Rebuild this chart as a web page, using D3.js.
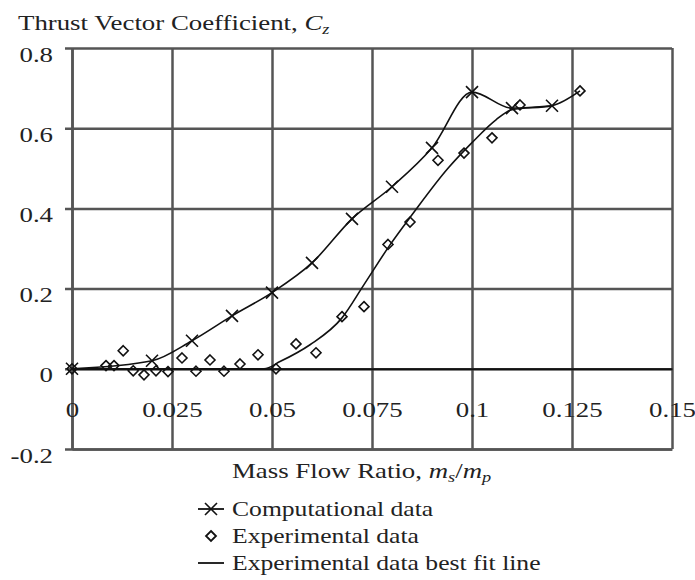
<!DOCTYPE html>
<html><head><meta charset="utf-8">
<script src="https://cdn.jsdelivr.net/npm/d3@7"></script>
<style>body{margin:0;background:#fff} svg{display:block}</style>
</head><body><svg id="c" width="695" height="580"></svg>
<script>
const compX = [0, 0.02, 0.03, 0.04, 0.05, 0.06, 0.07, 0.08, 0.09, 0.10, 0.11, 0.12];
const compY = [0, 0.02, 0.07, 0.132, 0.19, 0.264, 0.374, 0.454, 0.551, 0.69, 0.65, 0.656];

const expX = [0, 0.0085, 0.0105, 0.0128, 0.0153, 0.018, 0.021, 0.024, 0.0275, 0.031, 0.0345, 0.038, 0.042, 0.0465, 0.051, 0.056, 0.061, 0.0675, 0.073, 0.079, 0.0845, 0.0915, 0.098, 0.105, 0.112, 0.127];
const expY = [0, 0.008, 0.008, 0.045, -0.005, -0.015, -0.005, -0.007, 0.027, -0.006, 0.022, -0.006, 0.012, 0.035, 0.0, 0.062, 0.04, 0.13, 0.155, 0.31, 0.366, 0.52, 0.538, 0.576, 0.658, 0.693];

const fitX = [0, 0.025, 0.048, 0.052, 0.0595, 0.0675, 0.073, 0.0795, 0.085, 0.094, 0.100, 0.106, 0.110, 0.120, 0.127];
const fitY = [0, 0, 0, 0.018, 0.06, 0.127, 0.21, 0.309, 0.384, 0.50, 0.564, 0.621, 0.646, 0.656, 0.693];

const xTicks = [0, 0.025, 0.05, 0.075, 0.1, 0.125, 0.15];
const xTickLabels = ["0", "0.025", "0.05", "0.075", "0.1", "0.125", "0.15"];
const yTicks = [-0.2, 0, 0.2, 0.4, 0.6, 0.8];
const yTickLabels = ["-0.2", "0", "0.2", "0.4", "0.6", "0.8"];
const legendLabels = ["Computational data", "Experimental data", "Experimental data best fit line"];

const FONT = "'Liberation Serif','Times New Roman',serif";
const SX = 1.22;          // horizontal stretch of the reference's lettering
const INK = "#222";
const svg = d3.select("#c");
const x = d3.scaleLinear().domain([0, 0.15]).range([72, 672]);
const y = d3.scaleLinear().domain([-0.2, 0.8]).range([449, 48]);

// horizontal gridlines + y axis
const gy = svg.append("g").attr("transform", "translate(72,0)")
  .call(d3.axisLeft(y).tickValues(yTicks).tickSize(-600).tickSizeOuter(0)
    .tickFormat((d, i) => yTickLabels[i]));
gy.select(".domain").attr("stroke", "#555").attr("stroke-width", 2.5);
gy.selectAll(".tick line").attr("x1", -7).attr("stroke", "#555").attr("stroke-width", 2.5);
gy.selectAll(".tick text").attr("x", -19 / SX).attr("dy", 13).attr("transform", `scale(${SX},1)`)
  .attr("font-family", FONT).attr("font-size", 22).attr("fill", INK);

// vertical gridlines
const gx = svg.append("g").attr("transform", "translate(0,449)")
  .call(d3.axisBottom(x).tickValues(xTicks).tickSize(-401).tickSizeOuter(0).tickFormat(""));
gx.select(".domain").attr("stroke", "#555").attr("stroke-width", 2.5);
gx.selectAll(".tick line").attr("stroke", "#555").attr("stroke-width", 2.5);

// zero axis line with labels below
const g0 = svg.append("g").attr("transform", `translate(0,${y(0)})`)
  .call(d3.axisBottom(x).tickValues(xTicks).tickSize(0).tickSizeOuter(0)
    .tickFormat((d, i) => xTickLabels[i]));
g0.select(".domain").attr("stroke", "#111").attr("stroke-width", 2);
g0.selectAll(".tick text").attr("y", 48).attr("dy", 0).attr("transform", `scale(${SX},1)`)
  .attr("font-family", FONT).attr("font-size", 22).attr("fill", INK);

// lines
const comp = compX.map((d, i) => [d, compY[i]]);
const exp = expX.map((d, i) => [d, expY[i]]);
const fit = fitX.map((d, i) => [d, fitY[i]]);
const line = d3.line().x(d => x(d[0])).y(d => y(d[1])).curve(d3.curveMonotoneX);

svg.append("path").datum(fit).attr("d", line)
  .attr("fill", "none").attr("stroke", "#111").attr("stroke-width", 1.6);
svg.append("path").datum(comp).attr("d", line)
  .attr("fill", "none").attr("stroke", "#111").attr("stroke-width", 1.6);

// cross markers
const crossPath = "M-6,-6L6,6M-6,6L6,-6";
svg.append("g").selectAll("path").data(comp).join("path")
  .attr("transform", d => `translate(${x(d[0])},${y(d[1])})`)
  .attr("d", crossPath).attr("stroke", "#111").attr("stroke-width", 1.6).attr("fill", "none");

// diamond markers
const diamondPath = "M0,-5L5,0L0,5L-5,0Z";
svg.append("g").selectAll("path").data(exp).join("path")
  .attr("transform", d => `translate(${x(d[0])},${y(d[1])})`)
  .attr("d", diamondPath).attr("stroke", "#111").attr("stroke-width", 1.6).attr("fill", "none");

// title
const t = svg.append("text").attr("transform", `translate(18,30) scale(${SX},1)`)
  .attr("font-family", FONT).attr("font-size", 22).attr("fill", INK);
t.append("tspan").text("Thrust Vector Coefficient, ");
t.append("tspan").attr("font-style", "italic").text("C");
t.append("tspan").attr("font-style", "italic").attr("font-size", 15).attr("dy", 4).text("z");

// x axis title
const xt = svg.append("text").attr("transform", `translate(232,478) scale(${SX},1)`)
  .attr("font-family", FONT).attr("font-size", 22).attr("fill", INK);
xt.append("tspan").text("Mass Flow Ratio, ");
xt.append("tspan").attr("font-style", "italic").text("m");
xt.append("tspan").attr("font-style", "italic").attr("font-size", 15).attr("dy", 4).text("s");
xt.append("tspan").attr("dy", -4).text("/");
xt.append("tspan").attr("font-style", "italic").text("m");
xt.append("tspan").attr("font-style", "italic").attr("font-size", 15).attr("dy", 4).text("p");

// legend
const rows = [509, 536, 563];
const lg = svg.append("g");
legendLabels.forEach((lab, i) => {
  const r = rows[i];
  if (i === 0 || i === 2) lg.append("line").attr("x1", 198).attr("x2", 224).attr("y1", r).attr("y2", r)
    .attr("stroke", "#111").attr("stroke-width", 1.8);
  if (i === 0) lg.append("path").attr("transform", `translate(211,${r})`).attr("d", crossPath)
    .attr("stroke", "#111").attr("stroke-width", 1.6).attr("fill", "none");
  if (i === 1) lg.append("path").attr("transform", `translate(211,${r})`).attr("d", diamondPath)
    .attr("stroke", "#111").attr("stroke-width", 1.8).attr("fill", "none");
  lg.append("text").attr("transform", `translate(232,${r + 7}) scale(${SX},1)`).attr("font-family", FONT)
    .attr("font-size", 21).attr("fill", INK).text(lab);
});
</script></body></html>
